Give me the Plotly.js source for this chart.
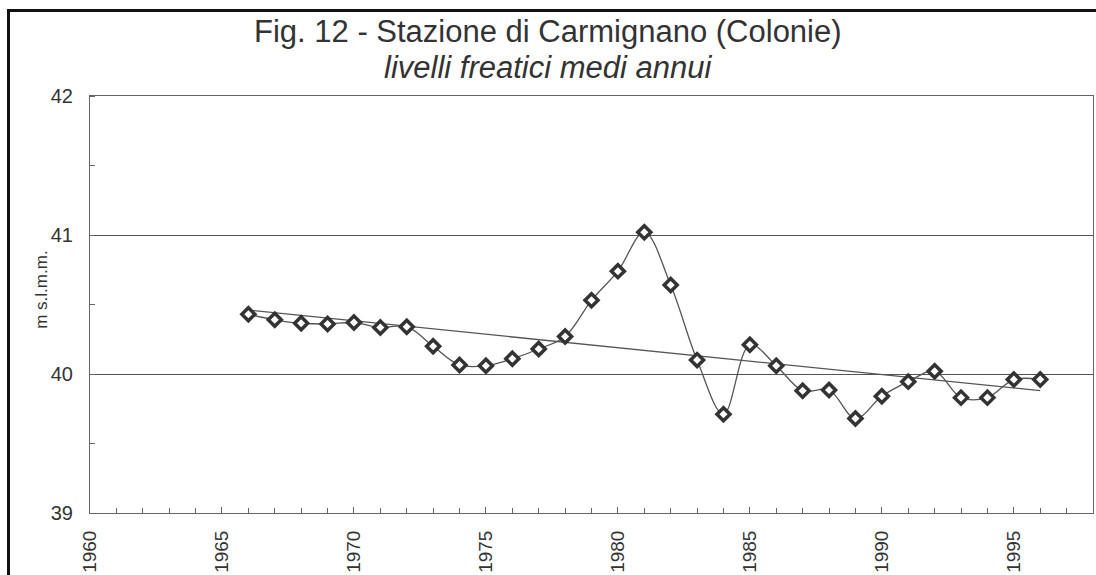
<!DOCTYPE html>
<html>
<head>
<meta charset="utf-8">
<script src="https://cdn.plot.ly/plotly-3.0.1.min.js"></script>
<style>
  html, body { margin: 0; padding: 0; background: #fff; overflow: hidden; }
  #wrap { position: relative; width: 1096px; height: 575px; }
  #chart { width: 1096px; height: 575px; }
  #frame { position: absolute; left: 7px; top: 9px; width: 1200px; height: 700px;
           border: 3px solid #111; pointer-events: none; box-sizing: border-box; }
</style>
</head>
<body>
<div id="wrap">
  <div id="chart"></div>
  <div id="frame"></div>
</div>
<script>
// Years and annual mean water-table levels (m s.l.m.m.)
var years = [1966, 1967, 1968, 1969, 1970, 1971, 1972, 1973, 1974, 1975, 1976,
             1977, 1978, 1979, 1980, 1981, 1982, 1983, 1984, 1985, 1986, 1987,
             1988, 1989, 1990, 1991, 1992, 1993, 1994, 1995, 1996];
var levels = [40.43, 40.39, 40.365, 40.36, 40.37, 40.335, 40.34, 40.20, 40.065, 40.06, 40.11,
              40.18, 40.27, 40.53, 40.74, 41.02, 40.64, 40.10, 39.71, 40.21, 40.06, 39.88,
              39.885, 39.68, 39.84, 39.945, 40.02, 39.83, 39.83, 39.96, 39.96];
// Linear trend line endpoints
var trendYears = [1966, 1996];
var trendLevels = [40.46, 39.88];

var xTickVals = [1960, 1965, 1970, 1975, 1980, 1985, 1990, 1995];
var yTickVals = [39, 40, 41, 42];

var titleText = 'Fig. 12 - Stazione di Carmignano (Colonie)';
var subtitleText = 'livelli freatici medi annui';
var yTitleText = 'm s.l.m.m.';

var lineColor = '#555';
var fontFam = 'Liberation Sans, Arial, sans-serif';

var traces = [
  {
    x: trendYears, y: trendLevels, type: 'scatter', mode: 'lines',
    line: { color: lineColor, width: 1.3 }, hoverinfo: 'skip', showlegend: false
  },
  {
    x: years, y: levels, type: 'scatter', mode: 'lines+markers',
    line: { color: lineColor, width: 1.3, shape: 'spline', smoothing: 1 },
    marker: { symbol: 'diamond', size: 10, color: '#fff', line: { color: '#333', width: 3.5 } },
    showlegend: false
  }
];

var layout = {
  width: 1096, height: 575,
  margin: { l: 90, r: 3, t: 96, b: 62 },
  paper_bgcolor: '#fff', plot_bgcolor: '#fff',
  font: { family: fontFam, color: '#333' },
  showlegend: false,
  xaxis: {
    range: [1960, 1998],
    tickvals: xTickVals,
    ticktext: xTickVals.map(String),
    tickangle: -90,
    ticks: 'inside', ticklen: 6, tickcolor: '#666', tickwidth: 1,
    minor: { dtick: 1, tick0: 1960, ticks: 'inside', ticklen: 5, tickcolor: '#666', showgrid: false },
    showgrid: false, zeroline: false,
    showline: true, linecolor: '#666', linewidth: 1, mirror: true,
    tickfont: { size: 19, color: '#333', family: fontFam },
    ticklabelstandoff: 9,
    fixedrange: true
  },
  yaxis: {
    range: [39, 42],
    tickvals: yTickVals,
    ticktext: yTickVals.map(String),
    ticks: '',
    minor: { dtick: 0.5, tick0: 39, ticks: 'inside', ticklen: 5, tickcolor: '#666', showgrid: false },
    showgrid: true, gridcolor: '#555', gridwidth: 1,
    zeroline: false,
    showline: true, linecolor: '#666', linewidth: 1, mirror: true,
    tickfont: { size: 20, color: '#333', family: fontFam },
    ticklabelstandoff: 12,
    fixedrange: true
  },
  annotations: [
    { text: titleText, xref: 'paper', yref: 'paper', x: 0.4566, y: 1.155,
      xanchor: 'center', yanchor: 'middle', showarrow: false,
      font: { size: 31, color: '#333', family: fontFam } },
    { text: '<i>' + subtitleText + '</i>', xref: 'paper', yref: 'paper', x: 0.4566, y: 1.069,
      xanchor: 'center', yanchor: 'middle', showarrow: false,
      font: { size: 31, color: '#333', family: fontFam } },
    { text: yTitleText, xref: 'paper', yref: 'paper', x: -0.048, y: 0.535,
      xanchor: 'center', yanchor: 'middle', textangle: -90, showarrow: false,
      font: { size: 17, color: '#333', family: fontFam } }
  ]
};

Plotly.newPlot('chart', traces, layout, { displayModeBar: false, staticPlot: true });
</script>
</body>
</html>
